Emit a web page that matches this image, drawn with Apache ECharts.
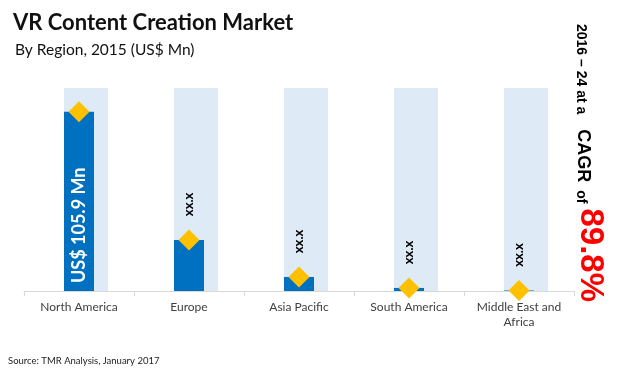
<!DOCTYPE html>
<html><head><meta charset="utf-8">
<script src="https://cdn.jsdelivr.net/npm/echarts@6/dist/echarts.min.js"></script>
<style>html,body{margin:0;padding:0;background:#fff}#c{width:620px;height:372px}</style>
</head><body><div id="c"></div>
<script>
var categories = ['North America', 'Europe', 'Asia Pacific', 'South America', 'Middle East and\nAfrica'];
var values = [105.9, 30.2, 8.3, 1.8, 0.3];
var backgroundValues = [120, 120, 120, 120, 120];
var pointLabels = ['US$ 105.9 Mn', 'xx.x', 'xx.x', 'xx.x', 'xx.x'];
var yMax = 120;

var chart = echarts.init(document.getElementById('c'));
var font = 'Lato, "Open Sans", sans-serif';
var arial = '"Liberation Sans", Arial, sans-serif';
chart.setOption({
  animation: false,
  title: [
    {text: 'VR Content Creation Market', left: 8, top: 7, textStyle: {fontFamily: font, fontSize: 22, fontWeight: 'bold', color: '#111'}},
    {text: 'By Region, 2015 (US$ Mn)', left: 10, top: 37, textStyle: {fontFamily: font, fontSize: 15.5, fontWeight: 'normal', color: '#111'}},
    {text: 'Source: TMR Analysis, January 2017', left: 3, top: 351, textStyle: {fontFamily: font, fontSize: 9.5, fontWeight: 'normal', color: '#222'}}
  ],
  grid: {left: 24, right: 46, top: 88, bottom: 81},
  xAxis: {
    type: 'category', data: categories,
    axisLine: {lineStyle: {color: '#D9D9D9'}},
    axisTick: {show: true, length: 5, lineStyle: {color: '#D9D9D9'}},
    axisLabel: {fontFamily: font, fontSize: 12, color: '#404040', margin: 9, lineHeight: 15, interval: 0}
  },
  yAxis: {type: 'value', min: 0, max: yMax, show: false, splitLine: {show: false}},
  series: [
    {type: 'bar', data: backgroundValues, barWidth: 44, barGap: '-100%', itemStyle: {color: '#DEEBF7'}, silent: true, z: 1},
    {type: 'bar', data: values.map(function (v, i) {
        var d = {value: v};
        if (i === 0) {
          d.label = {show: true, position: 'insideBottom', distance: 8, rotate: 90, align: 'left', verticalAlign: 'middle',
            formatter: pointLabels[0], color: '#fff', fontWeight: 'bold', fontSize: 18, fontFamily: font};
        }
        return d;
      }), barWidth: 30, itemStyle: {color: '#0070C0'}, z: 2},
    {type: 'scatter', symbol: 'diamond', symbolSize: 21, itemStyle: {color: '#FFC000', opacity: 1}, z: 3,
      data: values.map(function (v, i) {
        var d = {value: v};
        if (i > 0) {
          d.label = {show: true, position: 'top', distance: 25, rotate: 90, align: 'center', verticalAlign: 'middle',
            formatter: pointLabels[i], color: '#000', fontWeight: 'bold', fontSize: 13, fontFamily: font};
        }
        return d;
      })}
  ],
  graphic: [{
    type: 'text', x: 590, y: 163, rotation: -Math.PI / 2,
    style: {
      text: '{a|2016 – 24 at a}{s1|}{b|CAGR}{s2|}{a|of}{s3|}{c|89.8%}',
      align: 'center', verticalAlign: 'middle',
      rich: {
        a: {fontFamily: arial, fontSize: 14, fontWeight: 'bold', fill: '#000', verticalAlign: 'bottom'},
        b: {fontFamily: arial, fontSize: 18, fontWeight: 'bold', fill: '#000', verticalAlign: 'bottom'},
        c: {fontFamily: arial, fontSize: 33, fontWeight: 'bold', fill: '#FF0000', verticalAlign: 'bottom'},
        s1: {width: 15, fontSize: 14},
        s2: {width: 8, fontSize: 14},
        s3: {width: 5, fontSize: 14}
      }
    }
  }]
});
</script></body></html>
